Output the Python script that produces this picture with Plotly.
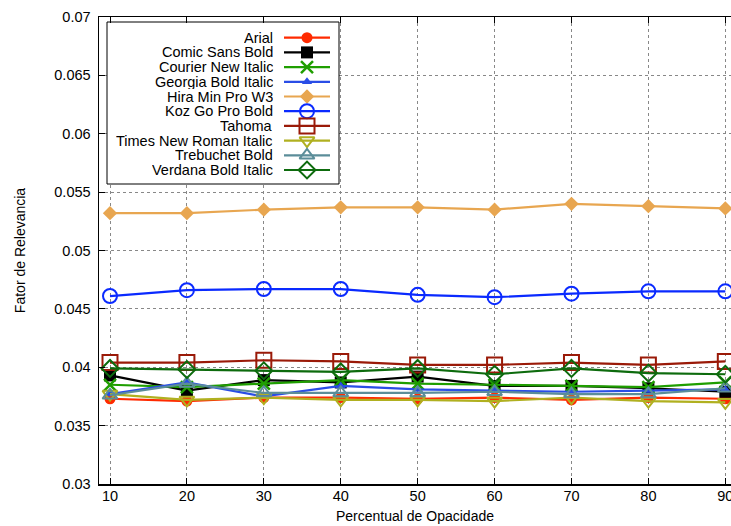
import plotly.graph_objects as go

x_vals = [10, 20, 30, 40, 50, 60, 70, 80, 90]
series_names = ["Arial", "Comic Sans Bold", "Courier New Italic", "Georgia Bold Italic",
                "Hira Min Pro W3", "Koz Go Pro Bold", "Tahoma", "Times New Roman Italic",
                "Trebuchet Bold", "Verdana Bold Italic"]
arial = [0.0373, 0.0371, 0.0374, 0.0374, 0.0373, 0.0374, 0.0372, 0.0374, 0.0373]
comic = [0.0393, 0.0380, 0.0389, 0.0387, 0.0392, 0.0384, 0.0384, 0.0382, 0.0379]
courier = [0.0385, 0.0383, 0.0386, 0.0389, 0.0386, 0.0385, 0.0384, 0.0383, 0.0387]
georgia = [0.0377, 0.0387, 0.0375, 0.0384, 0.0381, 0.0380, 0.0379, 0.0380, 0.0381]
hira = [0.0532, 0.0532, 0.0535, 0.0537, 0.0537, 0.0535, 0.0540, 0.0538, 0.0536]
koz = [0.0461, 0.0466, 0.0467, 0.0467, 0.0462, 0.0460, 0.0463, 0.0465, 0.0465]
tahoma = [0.0404, 0.0404, 0.0406, 0.0405, 0.0402, 0.0402, 0.0404, 0.0402, 0.0405]
times = [0.0377, 0.0372, 0.0374, 0.0372, 0.0372, 0.0371, 0.0374, 0.0371, 0.0370]
trebuchet = [0.0376, 0.0386, 0.0378, 0.0378, 0.0378, 0.0379, 0.0377, 0.0377, 0.0382]
verdana = [0.0399, 0.0398, 0.0397, 0.0396, 0.0399, 0.0394, 0.0399, 0.0395, 0.0394]
y_ticks = [0.03, 0.035, 0.04, 0.045, 0.05, 0.055, 0.06, 0.065, 0.07]
y_tick_text = ["0.03", "0.035", "0.04", "0.045", "0.05", "0.055", "0.06", "0.065", "0.07"]

all_values = [arial, comic, courier, georgia, hira, koz, tahoma, times, trebuchet, verdana]
styles = [
    dict(color="#ff2a00", symbol="circle", size=11, lw=0),
    dict(color="#000000", symbol="square", size=12, lw=0),
    dict(color="#1f9e00", symbol="x-thin-open", size=12, lw=2.5),
    dict(color="#2a4de6", symbol="triangle-up", size=9, lw=0),
    dict(color="#e8a650", symbol="diamond", size=11, lw=0),
    dict(color="#0a2aff", symbol="circle-open", size=14, lw=2),
    dict(color="#9a1a08", symbol="square-open", size=15, lw=2),
    dict(color="#b0b020", symbol="triangle-down-open", size=13, lw=2),
    dict(color="#5b8d99", symbol="triangle-up-open", size=13, lw=2),
    dict(color="#0d6b0d", symbol="diamond-open", size=13, lw=2),
]

FONT = "Liberation Sans, Arial, Helvetica, sans-serif"
W, H = 731, 526
L, R, T, B = 99, 0, 17, 526 - 484

fig = go.Figure()
for name, vals, st in zip(series_names, all_values, styles):
    fig.add_trace(go.Scatter(
        x=x_vals, y=vals, mode="lines+markers", name=name,
        line=dict(color=st["color"], width=2.2),
        marker=dict(symbol=st["symbol"], size=st["size"], color=st["color"],
                    line=dict(color=st["color"], width=st["lw"])),
        showlegend=False, xaxis="x", yaxis="y"))

# manual legend (text on the left, sample on the right, as in gnuplot);
# overlay axes measured in window pixels
box_x0, box_x1, box_y0, box_y1 = 107, 339, 22, 184
row0, row_step = 37.7, 14.7
text_right = 274
samp_x0, samp_mid, samp_x1 = 284, 307, 330

fig.add_trace(go.Scatter(
    x=[box_x0, box_x1, box_x1, box_x0, box_x0],
    y=[box_y0, box_y0, box_y1, box_y1, box_y0],
    mode="lines", fill="toself", fillcolor="white",
    line=dict(color="#000000", width=1), showlegend=False,
    hoverinfo="skip", xaxis="x2", yaxis="y2"))

annotations = []
for i, (name, st) in enumerate(zip(series_names, styles)):
    ry = row0 + i * row_step
    fig.add_trace(go.Scatter(
        x=[samp_x0, samp_x1], y=[ry, ry], mode="lines",
        line=dict(color=st["color"], width=2.2), showlegend=False,
        hoverinfo="skip", xaxis="x2", yaxis="y2"))
    fig.add_trace(go.Scatter(
        x=[samp_mid], y=[ry], mode="markers",
        marker=dict(symbol=st["symbol"], size=st["size"], color=st["color"],
                    line=dict(color=st["color"], width=st["lw"])),
        showlegend=False, hoverinfo="skip", xaxis="x2", yaxis="y2"))
    annotations.append(dict(
        x=text_right, y=ry, xref="x2", yref="y2", text=name, showarrow=False,
        xanchor="right", yanchor="middle", borderpad=0, height=14,
        font=dict(family=FONT, size=14.5, color="#000000")))

fig.update_layout(
    width=W, height=H,
    margin=dict(l=L, r=R, t=T, b=B, autoexpand=False),
    paper_bgcolor="white", plot_bgcolor="white",
    font=dict(family=FONT, size=14.5, color="#000000"),
    showlegend=False,
    hovermode=False,
    xaxis=dict(
        range=[8.57, 90.74], tickvals=x_vals, ticktext=[str(v) for v in x_vals],
        ticks="inside", ticklen=6, tickcolor="#000000",
        showline=True, linecolor="#000000", linewidth=1.5, mirror="ticks",
        showgrid=True, gridcolor="#888888", griddash="dot", gridwidth=1,
        zeroline=False, ticklabelstandoff=-2, automargin=False,
        ticklabeloverflow="allow",
        title=dict(text="Percentual de Opacidade", font=dict(size=14), standoff=8),
    ),
    yaxis=dict(
        range=[0.03, 0.07], tickvals=y_ticks, ticktext=y_tick_text,
        ticks="inside", ticklen=6, tickcolor="#000000",
        showline=True, linecolor="#000000", linewidth=1.5, mirror=False,
        showgrid=True, gridcolor="#888888", griddash="dot", gridwidth=1,
        zeroline=False, ticklabelstandoff=4, automargin=False,
        title=dict(text="Fator de Relevancia", font=dict(size=14), standoff=25),
    ),
    xaxis2=dict(range=[99, 731], overlaying="x", visible=False, fixedrange=True),
    yaxis2=dict(range=[484, 17], overlaying="y", visible=False, fixedrange=True),
    annotations=annotations,
)

fig.write_html(
    "out.html",
    config={"displayModeBar": False, "staticPlot": True},
    post_script=(
        "document.documentElement.style.margin='0';"
        "document.body.style.margin='0';"
        "document.body.style.overflow='hidden';"
        "document.documentElement.style.overflow='hidden';"
    ),
)
